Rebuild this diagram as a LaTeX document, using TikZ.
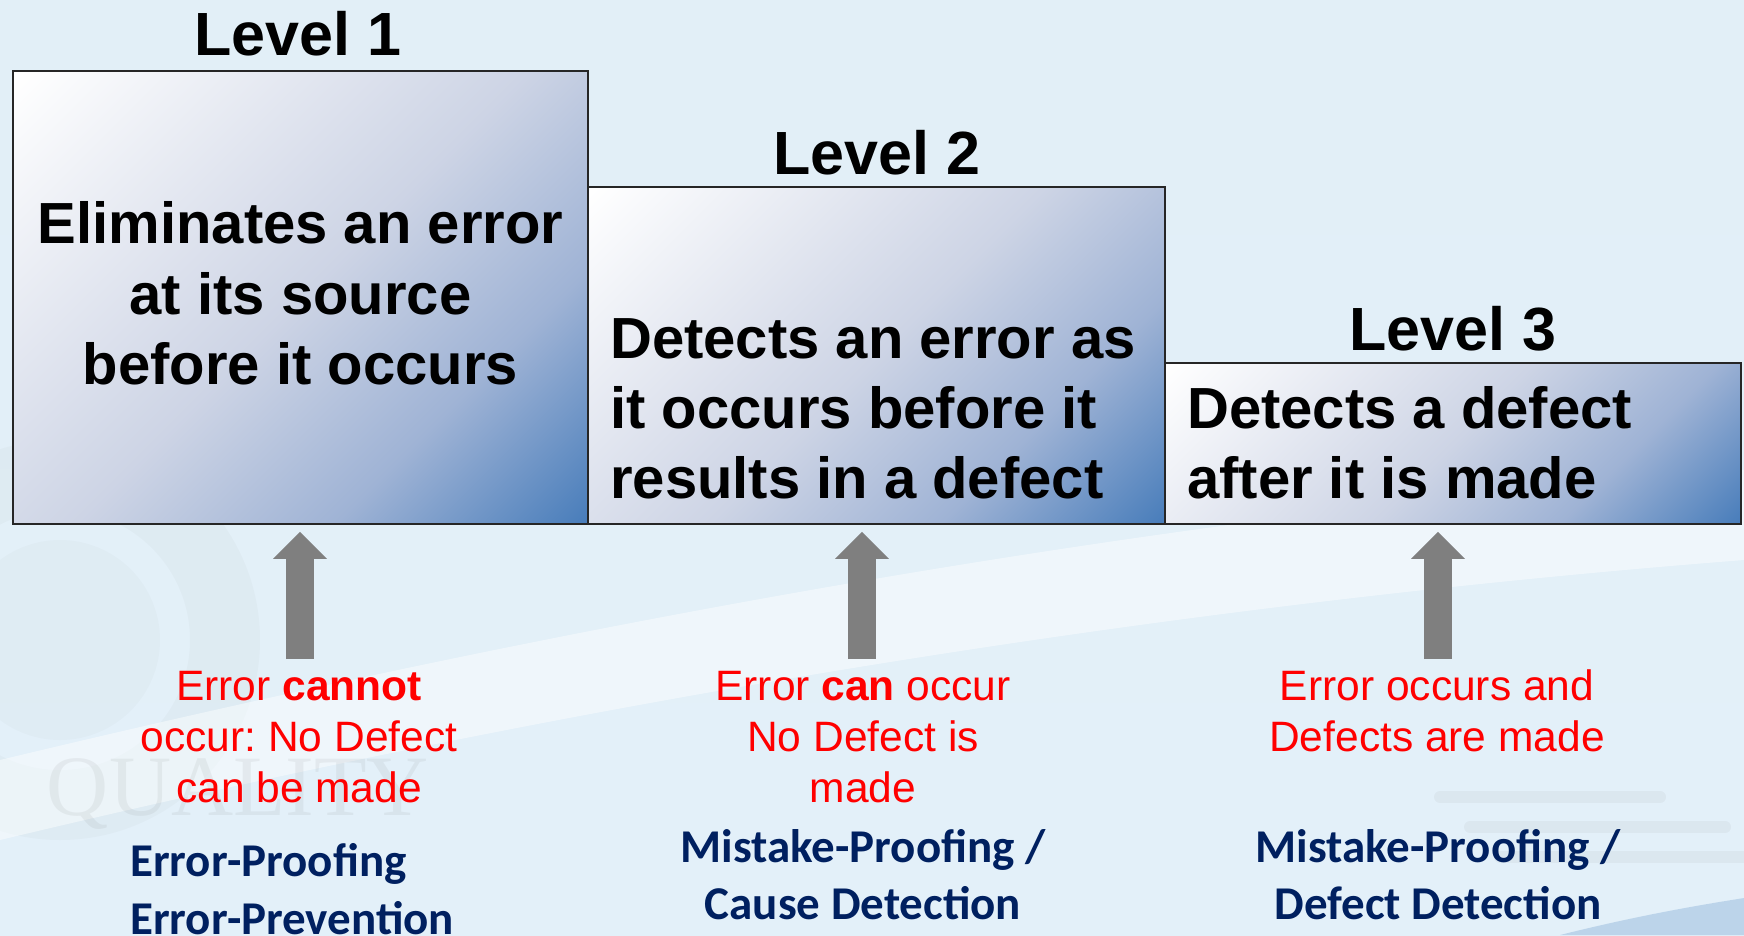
\documentclass[tikz,border=0pt]{standalone}
\usepackage{fontspec}
\setmainfont{Liberation Sans}
\newfontfamily\calib{Carlito}
\newfontfamily\serifwm{Liberation Serif}
\usetikzlibrary{arrows.meta}
\frenchspacing
\definecolor{boxblue}{HTML}{4A7EBB}
\definecolor{boxmid}{HTML}{CDD4E5}
\definecolor{boxmid2}{HTML}{9FB3D5}
\definecolor{navy}{HTML}{002060}
\definecolor{arrowgray}{HTML}{7F7F7F}
\definecolor{bgtop}{HTML}{E2EFF7}
\definecolor{bgmid}{HTML}{F3F8FB}
\definecolor{bgbot}{HTML}{E3F0F9}
\definecolor{swoosh}{HTML}{9DBEDF}
\definecolor{redtext}{HTML}{FF0000}
\pgfdeclarehorizontalshading{boxgrad}{100bp}{color(0bp)=(white); color(15bp)=(white); color(50bp)=(boxmid); color(68bp)=(boxmid2); color(85bp)=(boxblue); color(100bp)=(boxblue)}
\tikzset{
  lvbox/.style={draw=black!85, line width=1.6pt, shade, shading=boxgrad, shading angle=-45, inner sep=0pt},
  lvtitle/.style={font=\fontsize{61}{70}\selectfont\bfseries, inner sep=0pt, anchor=base},
  boxtxt/.style={font=\fontsize{58}{70}\selectfont\bfseries, inner sep=0pt},
  redtxt/.style={text=redtext, font=\fontsize{42.5}{51}\selectfont, inner sep=0pt, anchor=base},
  bluetxt/.style={text=navy, font=\fontsize{47}{58}\selectfont\calib\bfseries, inner sep=0pt},
  bigarrow/.style={draw=arrowgray, line width=28pt, -{Triangle[width=54pt,length=27pt,line width=0pt]}, shorten >=7pt},
  streak/.style={draw=gray, opacity=0.08, line width=12pt, line cap=round}
}
\begin{document}
\begin{tikzpicture}[x=1pt,y=-1pt]
\useasboundingbox (0,0) rectangle (1744,935);
% background
\shade[top color=bgtop, middle color=bgmid, bottom color=bgbot] (0,0) rectangle (1744,935);
\fill[gray, opacity=0.045, even odd rule] (60,640) circle (200) (60,640) circle (130);
\fill[gray, opacity=0.035] (60,640) circle (100);
\fill[white, opacity=0.45] (0,760) .. controls (500,640) and (1100,520) .. (1744,470) -- (1744,560) .. controls (1100,610) and (500,720) .. (0,840) -- cycle;
\draw[streak] (1440,797) -- (1660,797);
\draw[streak] (1470,827) -- (1725,827);
\draw[streak] (1500,857) -- (1744,857);
\fill[swoosh, opacity=0.55] (1560,935) .. controls (1640,915) and (1700,905) .. (1744,898) -- (1744,935) -- cycle;
\node[font=\fontsize{86}{90}\selectfont\serifwm, text=gray, opacity=0.1, anchor=base, inner sep=0pt] (wm) at (238,815) {QUALITY};

% level boxes
\node[lvbox, minimum width=575pt, minimum height=453pt] (box1) at (300.5,297.5) {};
\node[lvbox, minimum width=577pt, minimum height=337pt] (box2) at (876.5,355.5) {};
\node[lvbox, minimum width=576pt, minimum height=161pt] (box3) at (1453,443.5) {};

% titles
\node[lvtitle] (t1) at (298,55) {Level 1};
\node[lvtitle] (t2) at (877,174) {Level 2};
\node[lvtitle] (t3) at (1453,350) {Level 3};

% box texts
\node[boxtxt, anchor=base] (b1a) at (300.5,243) {Eliminates an error};
\node[boxtxt, anchor=base] (b1b) at (300.5,314) {at its source};
\node[boxtxt, anchor=base] (b1c) at (300.5,384) {before it occurs};

\node[boxtxt, anchor=base west] (b2a) at (610,358) {Detects an error as};
\node[boxtxt, anchor=base west] (b2b) at (610,428) {it occurs before it};
\node[boxtxt, anchor=base west] (b2c) at (610,498) {results in a defect};

\node[boxtxt, anchor=base west] (b3a) at (1187,428) {Detects a defect};
\node[boxtxt, anchor=base west] (b3b) at (1187,498) {after it is made};

% arrows
\coordinate (a1) at (300,659);
\coordinate (a2) at (862,659);
\coordinate (a3) at (1438,659);
\draw[bigarrow] (a1) -- (a1 |- box1.south);
\draw[bigarrow] (a2) -- (a2 |- box2.south);
\draw[bigarrow] (a3) -- (a3 |- box3.south);

% red texts
\node[redtxt] (r1a) at (299,700) {Error \textbf{cannot}};
\node[redtxt] (r1b) at (299,751) {occur: No Defect};
\node[redtxt] (r1c) at (299,802) {can be made};

\node[redtxt] (r2a) at (863,700) {Error \textbf{can} occur};
\node[redtxt] (r2b) at (863,751) {No Defect is};
\node[redtxt] (r2c) at (863,802) {made};

\node[redtxt] (r3a) at (1437,700) {Error occurs and};
\node[redtxt] (r3b) at (1437,751) {Defects are made};

% blue texts
\node[bluetxt, anchor=base west] (l1a) at (130,876) {Error-Proofing};
\node[bluetxt, anchor=base west] (l1b) at (130,934) {Error-Prevention};

\node[bluetxt, anchor=base] (l2a) at (863,862) {Mistake-Proofing /};
\node[bluetxt, anchor=base] (l2b) at (863,919) {Cause Detection};

\node[bluetxt, anchor=base] (l3a) at (1438,862) {Mistake-Proofing /};
\node[bluetxt, anchor=base] (l3b) at (1438,919) {Defect Detection};
\end{tikzpicture}
\end{document}
